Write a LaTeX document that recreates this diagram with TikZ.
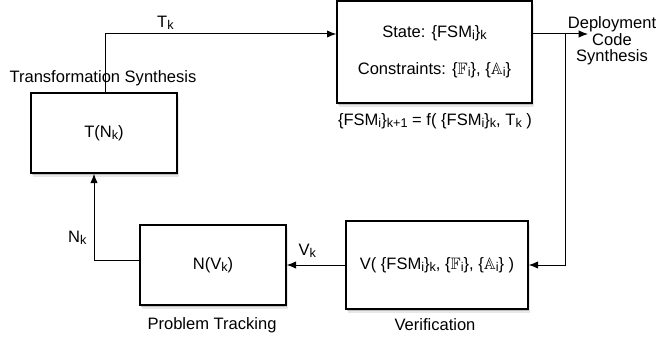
\documentclass[tikz,border=0pt]{standalone}
\usepackage{amsmath,amssymb}
\usepackage{fontspec}
\setmainfont{Liberation Sans}
\usetikzlibrary{shadows,arrows.meta}
\newcommand\low[1]{\raisebox{-0.2ex}{\fontsize{9.5}{9.5}\selectfont #1}}
\def\fsm{\{FSM\low{i}\}}

\begin{document}
\begin{tikzpicture}[x=0.75pt,y=-0.75pt,>={Latex[length=7pt,width=5.5pt]},line width=0.75pt,
	font=\fontsize{12.4}{15}\selectfont,
	stage/.style={draw,fill=white,line width=1pt,
		drop shadow={fill=black!18,shadow xshift=1.8pt,shadow yshift=-3pt},
		drop shadow={fill=black!40,shadow xshift=0.9pt,shadow yshift=-1.6pt}}]
\useasboundingbox (0,0) rectangle (660,346);
\node[stage,minimum width=146*0.75pt,minimum height=80*0.75pt] (T) at (104,133) {T(N\low{k})};
\node[stage,minimum width=195*0.75pt,minimum height=102*0.75pt,align=center] (S) at (434.5,52)
	{State: \fsm\low{k}\\[12.5pt] Constraints: \{$\mathbb{F}$\low{i}\}, \{$\mathbb{A}$\low{i}\}};
\node[stage,minimum width=146*0.75pt,minimum height=80*0.75pt] (N) at (213,265) {N(V\low{k})};
\node[stage,minimum width=182*0.75pt,minimum height=88*0.75pt] (V) at (437,265)
	{V( \fsm\low{k}, \{$\mathbb{F}$\low{i}\}, \{$\mathbb{A}$\low{i}\} )};
\node (ts) at (103,78) {Transformation Synthesis};
\node (sf) at (435,121) {\fsm\low{k+1} = f( \fsm\low{k}, T\low{k} )};
\node (pt) at (212,325) {Problem Tracking};
\node (vf) at (435,325) {Verification};
\node[align=center,font=\fontsize{12.4}{12.4}\selectfont] (dep) at (612,41) {Deployment\\Code\\Synthesis};
\coordinate (row) at (0,34);
\coordinate (split) at (565,34);
\coordinate (depin) at (588,34);
\draw [->] ([xshift=1pt]T.north) |- (S.west |- row) node[pos=0.63,above] (tk) {T\low{k}};
\draw [->] (S.east |- row) -- (depin);
\draw [->] (split) |- (V.east);
\draw [->] (V.west) -- (N.east) node[pos=0.65,above=2pt] (vk) {V\low{k}};
\draw [->] ([yshift=3.75pt]N.west) -| ([xshift=-7.5pt]T.south) node[pos=0.63,left=2pt] (nk) {N\low{k}};
\end{tikzpicture}
\end{document}
